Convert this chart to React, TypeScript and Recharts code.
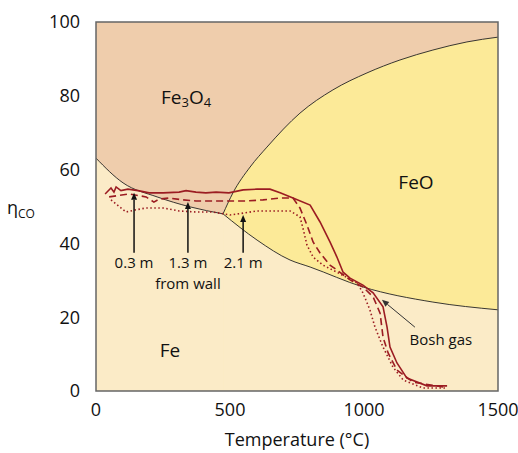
import { ComposedChart, Area, Line, XAxis, YAxis, ReferenceArea, ReferenceLine, ReferenceDot } from 'recharts';

// phase boundaries (temperature °C, eta CO %)
const upperT = [474, 511, 575, 638, 761, 884, 1011, 1134, 1257, 1384, 1500];
const upperV = [48.0, 53.7, 60.7, 66.1, 75.3, 81.6, 86.2, 89.7, 92.4, 94.6, 95.9];
const magT = [0, 101, 228, 351, 474];
const magV = [63.1, 56.4, 52.6, 49.9, 48.0];
const wusT = [474, 601, 724, 799, 996, 1257, 1500];
const wusV = [48.0, 40.9, 35.5, 33.6, 28.2, 24.1, 22.0];

// gas profiles, 0.3 m / 1.3 m / 2.1 m from wall
const wallT = [34, 56, 67, 75, 93, 119, 157, 198, 250, 310, 336, 373, 410, 448, 496, 549, 601, 649, 687, 735, 799, 836, 873, 899, 922, 948, 996, 1034, 1071, 1086, 1097, 1123, 1160, 1235, 1310];
const wallV = [53.4, 55.0, 53.9, 55.3, 54.3, 54.7, 54.3, 53.7, 53.7, 53.9, 54.3, 53.9, 53.7, 53.9, 53.7, 54.5, 54.7, 54.7, 53.7, 52.3, 50.4, 45.8, 40.4, 36.3, 32.2, 30.6, 28.7, 26.6, 22.8, 17.3, 11.9, 7.6, 3.5, 1.4, 1.4];
const midT = [49, 123, 187, 216, 235, 272, 325, 373, 437, 496, 563, 623, 687, 735, 761, 787, 810, 836, 873, 899, 948, 996, 1034, 1060, 1071, 1090, 1123, 1183, 1295];
const midV = [52.6, 53.4, 52.6, 51.2, 52.0, 52.3, 51.8, 51.5, 51.5, 51.5, 51.5, 51.8, 52.3, 52.3, 49.6, 45.0, 40.4, 37.4, 34.1, 32.8, 30.1, 28.2, 25.5, 21.1, 14.6, 10.3, 5.7, 2.4, 1.1];
const innerT = [56, 112, 149, 187, 250, 310, 373, 437, 500, 549, 601, 660, 724, 761, 772, 787, 810, 847, 899, 974, 996, 1022, 1041, 1071, 1108, 1146, 1220, 1310];
const innerV = [51.8, 48.5, 49.1, 49.6, 49.6, 48.8, 48.5, 48.5, 47.7, 48.2, 48.8, 48.8, 48.8, 47.2, 44.2, 39.6, 36.3, 34.1, 32.2, 29.3, 26.6, 22.0, 17.3, 11.9, 6.5, 3.0, 0.8, 0.8];

const xTicks = [0, 500, 1000, 1500];
const yTicks = [0, 20, 40, 60, 80, 100];

// annotations
const wallArrows = [
  { label: '0.3 m', t: 142, tip: 53.7 },
  { label: '1.3 m', t: 343, tip: 51.2 },
  { label: '2.1 m', t: 549, tip: 47.7 },
];

const zip = (t: number[], v: number[]) => t.map((x, i) => ({ t: x, v: v[i] }));

const FONT = '"Open Sans", "Noto Sans", sans-serif';
const RED = '#9b1c22';

const arrowShape = (p: any) => {
  const { x1, y1, x2, y2 } = p;
  const a = Math.atan2(y2 - y1, x2 - x1);
  const L = 7, W = 3;
  const bx = x2 - L * Math.cos(a), by = y2 - L * Math.sin(a);
  const px = -Math.sin(a) * W, py = Math.cos(a) * W;
  return (
    <g>
      <line x1={x1} y1={y1} x2={bx} y2={by} stroke={p.stroke} strokeWidth={p.strokeWidth} />
      <polygon points={`${x2},${y2} ${bx + px},${by + py} ${bx - px},${by - py}`} fill={p.stroke} />
    </g>
  );
};

const textDot = (content: any, size: number) => (p: any) => (
  <text x={p.cx} y={p.cy} textAnchor="middle" dominantBaseline="central" fontSize={size} fontFamily={FONT} fill="#111">
    {content}
  </text>
);

const boundary = (t: number[], v: number[], fill: string) => (
  <Area
    data={zip(t, v)}
    dataKey="v"
    type="monotone"
    baseValue={0}
    fill={fill}
    fillOpacity={1}
    stroke="#222"
    strokeWidth={0.9}
    isAnimationActive={false}
  />
);

export default function App() {
  return (
    <div style={{ position: 'absolute', left: 0, top: 0 }}>
      <ComposedChart width={518} height={453} margin={{ top: 22, right: 20, bottom: 0, left: 0 }}>
        <XAxis
          type="number"
          dataKey="t"
          domain={[0, 1500]}
          ticks={xTicks}
          allowDataOverflow
          height={62}
          tickLine={false}
          axisLine={false}
          tickSize={0}
          tickMargin={12}
          tick={{ fontSize: 18, fill: '#111', fontFamily: FONT }}
          label={{
            content: () => (
              <text x={297} y={446} textAnchor="middle" fontSize={18} fontFamily={FONT} fill="#111">
                Temperature (°C)
              </text>
            ),
          }}
        />
        <YAxis
          type="number"
          domain={[0, 100]}
          ticks={yTicks}
          allowDataOverflow
          width={96}
          tickLine={false}
          axisLine={false}
          tickSize={0}
          tickMargin={16}
          tick={{ fontSize: 18, fill: '#111', fontFamily: FONT }}
          label={{
            content: () => (
              <text x={7} y={214} fontSize={18} fontFamily={FONT} fill="#111">
                η<tspan fontSize={12} dy={4}>CO</tspan>
              </text>
            ),
          }}
        />
        <ReferenceArea x1={0} x2={1500} y1={0} y2={100} fill="#efcdac" fillOpacity={1} stroke="none" />
        {boundary(upperT, upperV, '#fcea98')}
        {boundary(magT, magV, '#fbebc7')}
        {boundary(wusT, wusV, '#fbebc7')}
        <ReferenceArea x1={0} x2={1500} y1={0} y2={100} fill="none" stroke="#666" strokeWidth={1.5} />
        <Line data={zip(wallT, wallV)} dataKey="v" type="linear" stroke={RED} strokeWidth={1.6} dot={false} isAnimationActive={false} />
        <Line data={zip(midT, midV)} dataKey="v" type="linear" stroke={RED} strokeWidth={1.6} strokeDasharray="7 4" dot={false} isAnimationActive={false} />
        <Line data={zip(innerT, innerV)} dataKey="v" type="linear" stroke={RED} strokeWidth={1.6} strokeDasharray="1.5 2.5" dot={false} isAnimationActive={false} />

        {wallArrows.map((a) => (
          <ReferenceLine
            key={a.label}
            segment={[{ x: a.t, y: 37.5 }, { x: a.t, y: a.tip }]}
            stroke="#111"
            strokeWidth={1.5}
            shape={arrowShape}
          />
        ))}
        {wallArrows.map((a) => (
          <ReferenceDot key={a.label + 't'} x={a.t} y={35.0} r={0} shape={textDot(a.label, 15)} />
        ))}
        <ReferenceDot x={343} y={29.3} r={0} shape={textDot('from wall', 15)} />
        <ReferenceLine segment={[{ x: 1190, y: 17.3 }, { x: 1067, y: 24.7 }]} stroke="#333" strokeWidth={1} shape={arrowShape} />
        <ReferenceDot x={1287} y={14.1} r={0} shape={textDot('Bosh gas', 15)} />

        <ReferenceDot
          x={336}
          y={79.7}
          r={0}
          shape={textDot(
            <>
              Fe<tspan fontSize={13} dy={5}>3</tspan>
              <tspan dy={-5}>O</tspan>
              <tspan fontSize={13} dy={5}>4</tspan>
            </>,
            19
          )}
        />
        <ReferenceDot x={1194} y={56.6} r={0} shape={textDot('FeO', 19)} />
        <ReferenceDot x={276} y={11.1} r={0} shape={textDot('Fe', 19)} />
      </ComposedChart>
    </div>
  );
}
